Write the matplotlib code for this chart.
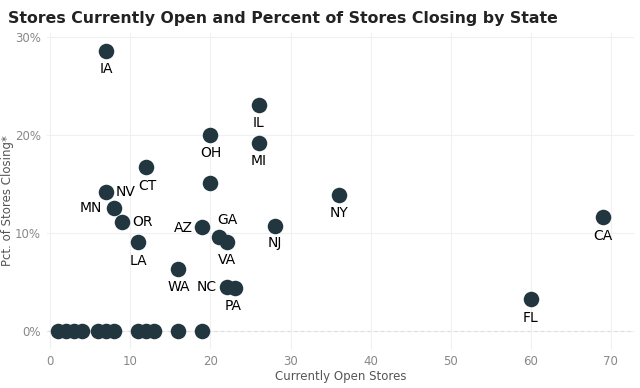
import matplotlib
matplotlib.use("Agg")
import matplotlib.pyplot as plt
from matplotlib.ticker import FuncFormatter

# labelled states: open stores vs percent closing
states = ["IA", "IL", "MI", "OH", "CT", "NV", "MN", "OR", "LA", "AZ",
          "GA", "VA", "WA", "NC", "PA", "NJ", "NY", "CA", "FL"]
open_stores = [7, 26, 26, 20, 12, 7, 8, 9, 11, 19,
               21, 22, 16, 22, 23, 28, 36, 69, 60]
pct_closing = [28.6, 23.1, 19.2, 20.0, 16.7, 14.2, 12.5, 11.1, 9.1, 10.6,
               9.6, 9.1, 6.3, 4.5, 4.4, 10.7, 13.9, 11.6, 3.3]

# states without a label
other_open = [20, 1, 2, 3, 4, 6, 7, 8, 11, 12, 13, 16, 19]
other_pct = [15.1, 0, 0, 0, 0, 0, 0, 0, 0, 0, 0, 0, 0]

# label offsets (px, y up)
offsets = {"IA": (0, -18), "IL": (0, -18), "MI": (0, -18), "OH": (0, -18),
           "CT": (1, -19), "NV": (19, 0), "MN": (-24, 0), "OR": (20, 0),
           "LA": (0, -19), "AZ": (-19, -1), "GA": (9, 17), "VA": (0, -18),
           "WA": (0, -18), "NC": (-20, 0), "PA": (-1, -18), "NJ": (0, -17),
           "NY": (0, -18), "CA": (0, -19), "FL": (0, -19)}

dot_color = "#22363f"
font = "DejaVu Sans"

fig = plt.figure(figsize=(6.4, 3.88), dpi=100)
ax = fig.add_axes([46.7 / 640, 1 - 349 / 388, (634 - 46.7) / 640, (349 - 33) / 388])

ax.axhline(0, color="#dddddd", lw=0.8, ls=(0, (3, 3)), zorder=1)
ax.scatter(other_open, other_pct, s=125, color=dot_color, zorder=3, linewidths=0)
ax.scatter(open_stores, pct_closing, s=125, color=dot_color, zorder=3, linewidths=0)

for st, xv, yv in zip(states, open_stores, pct_closing):
    dx, dy = offsets[st]
    ax.annotate(st, (xv, yv), xytext=(dx * 0.72, dy * 0.72), textcoords="offset points",
                ha="center", va="center", fontsize=10, color="black", family=font)

ax.set_xlim(-0.46, 72.9)
ax.set_ylim(-1.84, 30.4)
ax.set_xticks(range(0, 80, 10))
ax.set_yticks([0, 10, 20, 30])
ax.yaxis.set_major_formatter(FuncFormatter(lambda v, p: "%d%%" % v))

ax.grid(True, color="#f0f0f0", lw=0.8, zorder=0)
ax.set_axisbelow(True)
for sp in ax.spines.values():
    sp.set_visible(False)
ax.tick_params(length=0, labelsize=8.5, labelcolor="#888888", pad=4)

ax.set_xlabel("Currently Open Stores", fontsize=8.5, color="#555555", family=font, labelpad=2)
ax.set_ylabel("Pct. of Stores Closing*", fontsize=8.5, color="#555555", family=font)
ax.yaxis.set_label_coords(-0.056, 0.47)

fig.text(8 / 640, 1 - 18 / 388, "Stores Currently Open and Percent of Stores Closing by State",
         fontsize=11.3, fontweight="bold", color="#222222", family=font, va="center", ha="left")

fig.savefig("out.png", dpi=100)
